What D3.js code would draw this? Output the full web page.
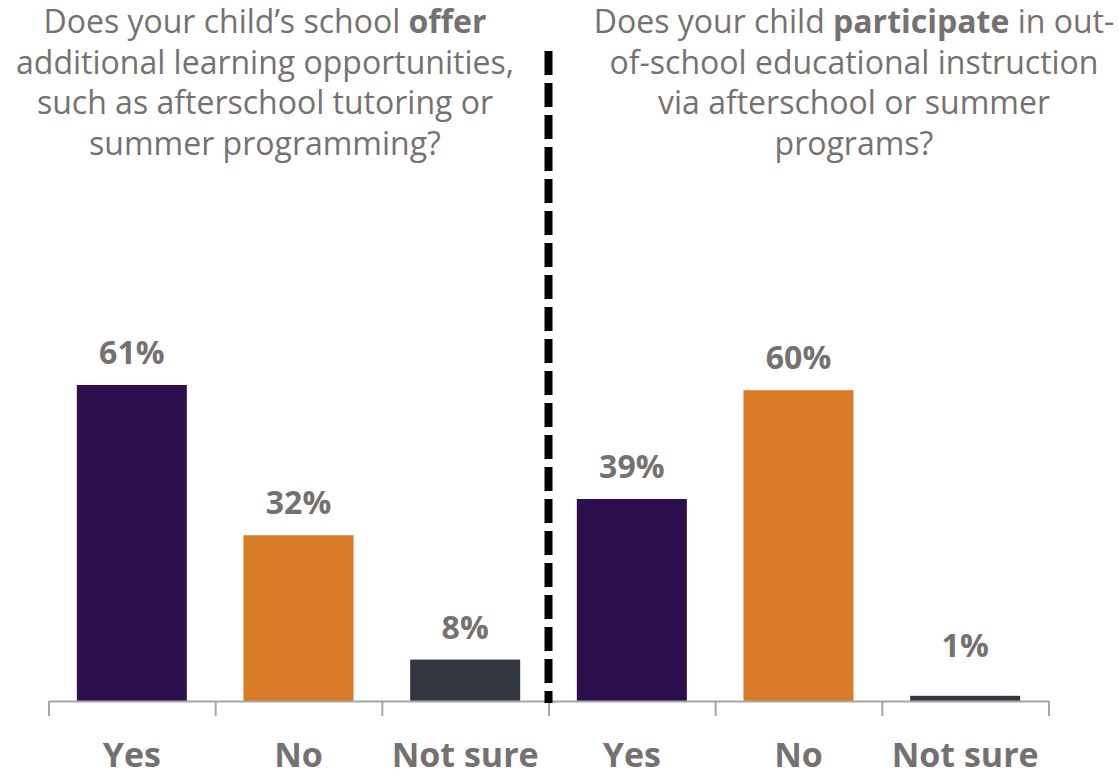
<!DOCTYPE html>
<html>
<head>
<meta charset="utf-8">
<script src="https://cdn.jsdelivr.net/npm/d3@7"></script>
<style>
  html, body { margin: 0; padding: 0; background: #ffffff; }
  svg { display: block; font-family: "Open Sans", "Noto Sans", sans-serif; }
</style>
</head>
<body>
<svg id="chart" width="1119" height="777"></svg>
<script>
// Survey answers: two questions, three answers each
const categories = ["Yes", "No", "Not sure", "Yes", "No", "Not sure"];
const questions  = ["offer", "offer", "offer", "participate", "participate", "participate"];
const values     = [0.61, 0.32, 0.08, 0.39, 0.60, 0.01];
const barColors  = ["#2e0f4d", "#d97b27", "#333840", "#2e0f4d", "#d97b27", "#333840"];

// Question titles, line by line; bold segments marked with b: true
const titleOffer = [
  [{t: "Does your child\u2019s school "}, {t: "offer", b: true}],
  [{t: "additional learning opportunities,"}],
  [{t: "such as afterschool tutoring or"}],
  [{t: "summer programming?"}]
];
const titleParticipate = [
  [{t: "Does your child "}, {t: "participate", b: true}, {t: " in out-"}],
  [{t: "of-school educational instruction"}],
  [{t: "via afterschool or summer"}],
  [{t: "programs?"}]
];

const textGray = "#767171";
const svg = d3.select("#chart");

const idx = d3.range(values.length);
const left = 48.5, right = 1048.5, baseline = 701;

const x = d3.scaleBand()
  .domain(idx)
  .range([left, right])
  .paddingInner(0.34)
  .paddingOuter(0.17);

// boundaries between categories for tick marks
const xb = d3.scaleLinear().domain([0, values.length]).range([left, right]);

const y = d3.scaleLinear().domain([0, 0.61]).range([baseline, 385]);

// bars
svg.append("g").selectAll("rect")
  .data(idx)
  .join("rect")
  .attr("x", i => x(i))
  .attr("width", x.bandwidth())
  .attr("y", i => y(values[i]))
  .attr("height", i => baseline - y(values[i]))
  .attr("fill", i => barColors[i]);

// value labels, kept clear of the axis for very short bars
const pct = d3.format(".0%");
svg.append("g").selectAll("text")
  .data(idx)
  .join("text")
  .attr("x", i => x(i) + x.bandwidth() / 2)
  .attr("y", i => Math.min(y(values[i]) - 21, baseline - 44))
  .attr("text-anchor", "middle")
  .attr("font-size", 32)
  .attr("font-weight", 700)
  .attr("fill", textGray)
  .text(i => pct(values[i]));

// axis with ticks at category boundaries
const axis = svg.append("g")
  .attr("transform", `translate(0,${baseline})`)
  .call(d3.axisBottom(xb)
    .tickValues(d3.range(values.length + 1))
    .tickSize(15)
    .tickSizeOuter(0)
    .tickFormat(""));
axis.select(".domain").attr("stroke", "#a6a6a6").attr("stroke-width", 2);
axis.selectAll(".tick line").attr("stroke", "#a6a6a6").attr("stroke-width", 2);

// category labels
svg.append("g").selectAll("text")
  .data(idx)
  .join("text")
  .attr("x", i => x(i) + x.bandwidth() / 2)
  .attr("y", 767)
  .attr("text-anchor", "middle")
  .attr("font-size", 34)
  .attr("font-weight", 700)
  .attr("fill", textGray)
  .text(i => categories[i]);

// dashed divider between the two questions
const splitX = xb(3);
svg.append("line")
  .attr("x1", splitX).attr("x2", splitX)
  .attr("y1", 51).attr("y2", baseline + 2)
  .attr("stroke", "#000000")
  .attr("stroke-width", 8)
  .attr("stroke-dasharray", "24 8");

// question titles
function drawTitle(lines, cx) {
  const t = svg.append("text")
    .attr("text-anchor", "middle")
    .attr("font-size", 32)
    .attr("fill", textGray);
  lines.forEach((segs, li) => {
    segs.forEach((s, si) => {
      const ts = t.append("tspan").text(s.t);
      if (si === 0) ts.attr("x", cx).attr("y", 33 + li * 40.5);
      if (s.b) ts.attr("font-weight", 700);
    });
  });
}
drawTitle(titleOffer, 265);
drawTitle(titleParticipate, 854);
</script>
</body>
</html>
